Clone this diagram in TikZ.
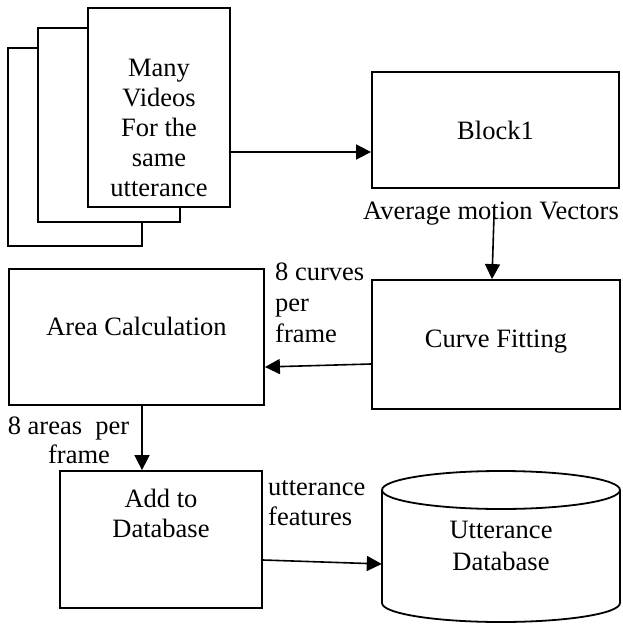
\documentclass[tikz,border=0pt]{standalone}
\usepackage{fontspec}
\setmainfont{Liberation Serif}
\usetikzlibrary{arrows.meta}
\begin{document}
\begin{tikzpicture}[x=1pt,y=-1pt,
  font=\fontsize{26.5}{30}\selectfont,
  box/.style={draw,line width=1.8pt,fill=white,inner sep=0pt},
  lbl/.style={inner sep=0pt,align=center,anchor=base},
  arr/.style={line width=1.6pt,-{Triangle[length=15pt,width=15pt]}}]
\useasboundingbox (0,0) rectangle (622,624);
% stacked pages
\node[box,minimum width=134pt,minimum height=198pt] (back) at (75,147) {};
\node[box,minimum width=142pt,minimum height=194pt] (mid) at (109,125) {};
\node[box,minimum width=142pt,minimum height=199pt] (front) at (159,107.5) {};
\node[lbl] (frontt) at (159,196) {Many\\Videos\\For the\\same\\utterance};
% Block1
\node[box,minimum width=247pt,minimum height=116pt] (b1) at (495.5,130) {};
\node[lbl] (b1t) at (495.5,139) {Block1};
\node[inner sep=0pt,anchor=base west] (avg) at (363,219) {Average motion Vectors};
% Curve fitting
\node[box,minimum width=248pt,minimum height=129pt] (cf) at (496,344.5) {};
\node[lbl] (cft) at (496,347) {Curve Fitting};
% Area calculation
\node[box,minimum width=255pt,minimum height=136pt] (ac) at (136.5,337) {};
\node[lbl] (act) at (136.5,335) {Area Calculation};
\node[inner sep=0pt,align=left,anchor=base west,font=\fontsize{26.5}{31}\selectfont] (curves) at (275,342) {8 curves\\per\\frame};
% Add to database
\node[box,minimum width=202pt,minimum height=137pt] (add) at (161,539.5) {};
\node[lbl] (addt) at (161,537) {Add to\\Database};
\node[lbl,font=\fontsize{26.5}{29}\selectfont] (areas) at (68.5,463) {8 areas\ \ per\\\hspace*{21pt}frame};
\node[inner sep=0pt,align=left,anchor=base west] (feat) at (268,525) {utterance\\features};
% cylinder
\draw[line width=1.8pt,fill=white] (382,490) -- (382,603) arc[start angle=180,end angle=360,x radius=119pt,y radius=19pt] -- (620,490);
\draw[line width=1.8pt] (501,490) ellipse[x radius=119pt,y radius=19pt];
\node[inner sep=0pt,minimum width=238pt,minimum height=113pt] (db) at (501,546.5) {};
\node[lbl,font=\fontsize{26.5}{32}\selectfont] (dbt) at (501,570) {Utterance\\Database};
% connectors
\draw[arr] ([yshift=-44.5pt]front.east) -- ([yshift=-22pt]b1.west);
\draw[arr] ([xshift=-1.5pt,yshift=-27pt]b1.south) -- ([xshift=-4pt]cf.north);
\draw[arr] ([yshift=-19.5pt]cf.west) -- ([yshift=-30pt]ac.east);
\draw[arr] ([xshift=5.5pt]ac.south) -- ([xshift=-19pt]add.north);
\draw[arr] ([yshift=-20.5pt]add.east) -- ([yshift=-17.5pt]db.west);
\end{tikzpicture}
\end{document}
